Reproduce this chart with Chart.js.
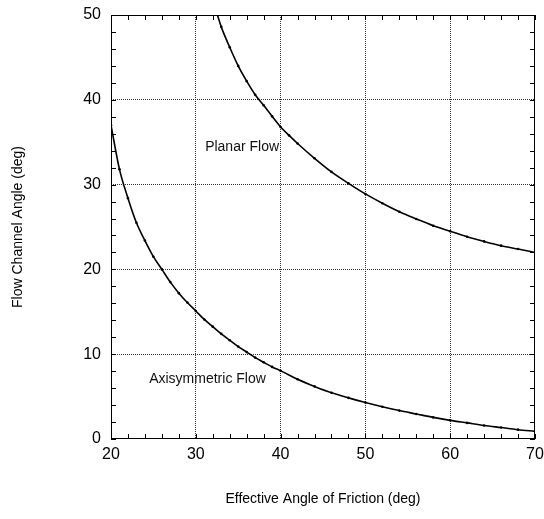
<!DOCTYPE html>
<html>
<head>
<meta charset="utf-8">
<script src="https://cdn.jsdelivr.net/npm/chart.js@4.4.1/dist/chart.umd.min.js"></script>
<style>
  body { margin: 0; background: #fff; }
  #wrap { width: 544px; height: 519px; position: relative; }
</style>
</head>
<body>
<div id="wrap"><canvas id="flowChart"></canvas></div>
<script>
// friction angle (deg) vs channel angle (deg)
const axiX = [20, 21, 22, 23, 24, 25, 26, 27, 28, 29, 30, 31, 32, 33, 34, 35, 36, 37, 38, 39, 40,
              42, 44, 46, 48, 50, 52, 54, 56, 58, 60, 62, 64, 66, 68, 70];
const axiY = [37.0, 31.8, 28.4, 25.5, 23.4, 21.5, 20.0, 18.5, 17.2, 16.1, 15.1, 14.1, 13.25, 12.4, 11.65, 10.9, 10.25, 9.6, 9.05, 8.5, 8.05,
              7.05, 6.2, 5.45, 4.85, 4.3, 3.8, 3.35, 2.95, 2.55, 2.2, 1.9, 1.6, 1.35, 1.1, 0.9];

const planarX = [32.55, 33, 34, 35, 36, 37, 38, 39, 40, 41, 42, 44, 46, 48, 50, 52, 54, 56, 58, 60, 62, 64, 66, 68, 70];
const planarY = [50.0, 48.6, 46.2, 44.0, 42.2, 40.6, 39.35, 38.05, 36.8, 35.8, 34.85, 33.1, 31.5, 30.15, 28.9, 27.8, 26.8, 25.95, 25.15, 24.5, 23.85, 23.3, 22.8, 22.4, 22.0];

const xTicks = [20, 30, 40, 50, 60, 70];
const yTicks = [0, 10, 20, 30, 40, 50];

const labels = ['Planar Flow', 'Axisymmetric Flow'];
const labelAt = [[31.1, 34.4], [24.5, 7.1]];

const FONT = 'Liberation Sans, Arial, sans-serif';

function toPoints(xs, ys) {
  return xs.map((x, i) => ({ x: x, y: ys[i] }));
}

// frame, inward ticks and the two curve labels
const framePlugin = {
  id: 'frame',
  afterDatasetsDraw(chart) {
    const ctx = chart.ctx;
    const a = chart.chartArea;
    const xs = chart.scales.x, ys = chart.scales.y;
    ctx.save();
    ctx.strokeStyle = '#000';
    ctx.lineWidth = 1;
    ctx.strokeRect(a.left + 0.5, a.top + 0.5, a.right - a.left - 1, a.bottom - a.top - 1);
    ctx.beginPath();
    for (let v = 20; v <= 70; v += 2) {
      const px = Math.round(xs.getPixelForValue(v)) + 0.5;
      ctx.moveTo(px, a.bottom); ctx.lineTo(px, a.bottom - 5);
      ctx.moveTo(px, a.top); ctx.lineTo(px, a.top + 5);
    }
    for (let v = 0; v <= 50; v += 2) {
      const py = Math.round(ys.getPixelForValue(v)) + 0.5;
      ctx.moveTo(a.left, py); ctx.lineTo(a.left + 5, py);
      ctx.moveTo(a.right, py); ctx.lineTo(a.right - 5, py);
    }
    ctx.stroke();

    ctx.fillStyle = '#111';
    ctx.font = '14px ' + FONT;
    ctx.textBaseline = 'middle';
    ctx.textAlign = 'left';
    labels.forEach((t, i) => {
      ctx.fillText(t, xs.getPixelForValue(labelAt[i][0]), ys.getPixelForValue(labelAt[i][1]));
    });
    ctx.restore();
  }
};

const curveStyle = {
  showLine: true,
  borderColor: '#000',
  backgroundColor: '#000',
  borderWidth: 1.6,
  pointRadius: 1.3,
  pointBorderWidth: 0,
  cubicInterpolationMode: 'monotone'
};

const ctx = document.getElementById('flowChart').getContext('2d');
const flowChart = new Chart(ctx, {
  type: 'scatter',
  data: {
    datasets: [
      Object.assign({ label: 'Axisymmetric Flow', data: toPoints(axiX, axiY) }, curveStyle),
      Object.assign({ label: 'Planar Flow', data: toPoints(planarX, planarY) }, curveStyle)
    ]
  },
  options: {
    responsive: true,
    maintainAspectRatio: false,
    animation: false,
    layout: { padding: { left: 0, right: 9, top: 15, bottom: 0 } },
    plugins: {
      legend: { display: false },
      tooltip: { enabled: false }
    },
    scales: {
      x: {
        type: 'linear',
        min: 20, max: 70,
        afterBuildTicks: (s) => { s.ticks = xTicks.map(v => ({ value: v })); },
        afterFit: (s) => { s.height = 80; s.paddingLeft = 0; s.paddingRight = 0; },
        border: { display: false, dash: [1, 1] },
        grid: {
          color: (c) => (c.tick && (c.tick.value === 20 || c.tick.value === 70)) ? 'rgba(0,0,0,0)' : '#333',
          lineWidth: 1,
          drawTicks: false
        },
        ticks: { color: '#000', padding: 6, font: { family: FONT, size: 16 } },
        title: {
          display: true,
          text: 'Effective Angle of Friction (deg)',
          color: '#000',
          font: { family: FONT, size: 14 },
          padding: { top: 0, bottom: 11 }
        }
      },
      y: {
        type: 'linear',
        min: 0, max: 50,
        afterBuildTicks: (s) => { s.ticks = yTicks.map(v => ({ value: v })); },
        afterFit: (s) => { s.width = 111; s.paddingTop = 0; s.paddingBottom = 0; },
        border: { display: false, dash: [1, 1] },
        grid: {
          color: (c) => (c.tick && (c.tick.value === 0 || c.tick.value === 50)) ? 'rgba(0,0,0,0)' : '#333',
          lineWidth: 1,
          drawTicks: false
        },
        ticks: { color: '#000', padding: 10, font: { family: FONT, size: 16 } },
        title: {
          display: true,
          text: 'Flow Channel Angle (deg)',
          color: '#000',
          font: { family: FONT, size: 14 },
          padding: { top: 10, bottom: 0 }
        }
      }
    }
  },
  plugins: [framePlugin]
});
</script>
</body>
</html>
